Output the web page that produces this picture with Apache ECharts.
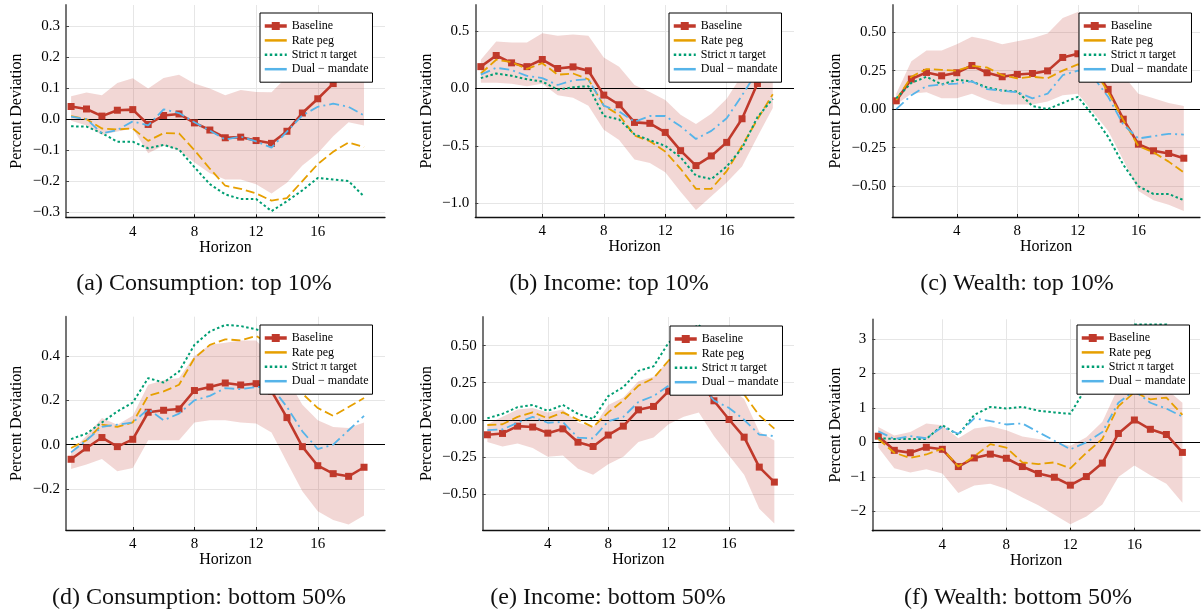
<!DOCTYPE html>
<html>
<head>
<meta charset="utf-8">
<script src="https://cdn.jsdelivr.net/npm/echarts@6/dist/echarts.min.js"></script>
<style>
  html, body { margin: 0; padding: 0; background: #ffffff; }
  #chart { width: 1203px; height: 613px; }
</style>
</head>
<body>
<div id="chart"></div>
<script>
// Impulse responses over a 20-quarter horizon, four policy regimes,
// with the 90% band around the baseline response.
const horizon = [0, 1, 2, 3, 4, 5, 6, 7, 8, 9, 10, 11, 12, 13, 14, 15, 16, 17, 18, 19];
const xTicks = [4, 8, 12, 16];
const seriesNames = ['Baseline', 'Rate peg', 'Strict π target', 'Dual − mandate'];
const panelTitles = [
  '(a) Consumption: top 10%', '(b) Income: top 10%', '(c) Wealth: top 10%',
  '(d) Consumption: bottom 50%', '(e) Income: bottom 50%', '(f) Wealth: bottom 50%'
];

// (a) Consumption: top 10%
const consTopBaseline = [0.041, 0.033, 0.010, 0.029, 0.031, -0.017, 0.012, 0.017, -0.012, -0.035, -0.060, -0.058, -0.069, -0.078, -0.039, 0.020, 0.066, 0.115, 0.165, 0.147];
const consTopRatePeg = [0.010, 0.000, -0.030, -0.033, -0.030, -0.070, -0.045, -0.046, -0.100, -0.160, -0.215, -0.225, -0.240, -0.263, -0.255, -0.200, -0.145, -0.105, -0.075, -0.090];
const consTopStrict = [-0.023, -0.024, -0.045, -0.073, -0.073, -0.094, -0.083, -0.098, -0.155, -0.210, -0.243, -0.258, -0.258, -0.297, -0.265, -0.230, -0.190, -0.195, -0.200, -0.250];
const consTopDual = [0.008, 0.000, -0.046, -0.035, -0.007, -0.020, 0.032, 0.020, -0.010, -0.037, -0.066, -0.056, -0.072, -0.092, -0.040, 0.012, 0.040, 0.050, 0.040, 0.012];
const consTopLow = [-0.005, -0.020, -0.050, -0.040, -0.030, -0.110, -0.085, -0.100, -0.140, -0.175, -0.195, -0.195, -0.210, -0.240, -0.205, -0.150, -0.110, -0.055, -0.010, -0.020];
const consTopHigh = [0.074, 0.086, 0.077, 0.117, 0.132, 0.099, 0.133, 0.144, 0.115, 0.099, 0.077, 0.094, 0.088, 0.087, 0.137, 0.200, 0.260, 0.300, 0.330, 0.320];

// (b) Income: top 10%
const incTopBaseline = [0.190, 0.287, 0.223, 0.190, 0.252, 0.174, 0.188, 0.154, -0.058, -0.142, -0.296, -0.304, -0.383, -0.542, -0.672, -0.588, -0.470, -0.264, 0.043, 0.200];
const incTopRatePeg = [0.130, 0.250, 0.230, 0.170, 0.220, 0.120, 0.130, 0.080, -0.150, -0.230, -0.410, -0.460, -0.550, -0.700, -0.875, -0.875, -0.720, -0.500, -0.270, -0.050];
const incTopStrict = [0.090, 0.130, 0.110, 0.080, 0.060, -0.010, 0.010, 0.020, -0.240, -0.270, -0.400, -0.450, -0.500, -0.600, -0.760, -0.790, -0.680, -0.520, -0.250, -0.090];
const incTopDual = [0.120, 0.180, 0.160, 0.110, 0.090, 0.030, 0.070, 0.080, -0.150, -0.200, -0.290, -0.240, -0.240, -0.330, -0.440, -0.370, -0.260, -0.060, 0.150, 0.350];
const incTopLow = [0.050, 0.050, 0.040, 0.020, 0.040, -0.060, -0.080, -0.150, -0.360, -0.450, -0.620, -0.650, -0.730, -0.900, -1.060, -0.940, -0.820, -0.680, -0.420, -0.170];
const incTopHigh = [0.250, 0.410, 0.400, 0.400, 0.480, 0.460, 0.470, 0.460, 0.270, 0.190, 0.030, -0.030, -0.100, -0.230, -0.310, -0.220, -0.090, 0.120, 0.350, 0.450];

// (c) Wealth: top 10%
const wltTopBaseline = [0.054, 0.195, 0.238, 0.216, 0.236, 0.283, 0.236, 0.210, 0.225, 0.231, 0.248, 0.335, 0.359, 0.270, 0.128, -0.065, -0.227, -0.270, -0.287, -0.318];
const wltTopRatePeg = [0.060, 0.210, 0.260, 0.255, 0.250, 0.280, 0.270, 0.220, 0.200, 0.210, 0.200, 0.250, 0.290, 0.270, 0.110, -0.070, -0.240, -0.280, -0.340, -0.410];
const wltTopStrict = [0.070, 0.170, 0.210, 0.160, 0.190, 0.180, 0.140, 0.120, 0.115, 0.020, 0.000, 0.040, 0.080, -0.040, -0.180, -0.360, -0.500, -0.550, -0.550, -0.590];
const wltTopDual = [0.000, 0.090, 0.150, 0.160, 0.165, 0.180, 0.130, 0.120, 0.110, 0.070, 0.100, 0.220, 0.250, 0.210, 0.080, -0.100, -0.190, -0.175, -0.160, -0.165];
const wltTopLow = [0.030, 0.100, 0.110, 0.070, 0.070, 0.100, 0.060, 0.030, 0.030, 0.030, 0.050, 0.090, 0.100, -0.020, -0.140, -0.330, -0.530, -0.590, -0.620, -0.660];
const wltTopHigh = [0.100, 0.310, 0.380, 0.380, 0.420, 0.470, 0.450, 0.420, 0.440, 0.460, 0.490, 0.590, 0.630, 0.580, 0.400, 0.220, 0.100, 0.070, 0.040, 0.020];

// (d) Consumption: bottom 50%
const consBotBaseline = [-0.066, -0.015, 0.032, -0.009, 0.024, 0.146, 0.155, 0.161, 0.244, 0.260, 0.278, 0.269, 0.275, 0.241, 0.122, -0.009, -0.095, -0.131, -0.143, -0.102];
const consBotRatePeg = [-0.015, 0.020, 0.090, 0.080, 0.100, 0.220, 0.240, 0.270, 0.390, 0.450, 0.475, 0.470, 0.490, 0.450, 0.330, 0.230, 0.165, 0.130, 0.170, 0.210];
const consBotStrict = [0.025, 0.050, 0.100, 0.150, 0.190, 0.300, 0.280, 0.330, 0.450, 0.510, 0.540, 0.535, 0.520, 0.500, 0.450, 0.380, 0.330, 0.300, 0.320, 0.350];
const consBotDual = [-0.035, 0.020, 0.080, 0.090, 0.100, 0.160, 0.110, 0.140, 0.200, 0.220, 0.255, 0.250, 0.260, 0.260, 0.170, 0.060, -0.020, 0.000, 0.065, 0.130];
const consBotLow = [-0.110, -0.090, -0.065, -0.120, -0.105, 0.020, 0.020, 0.020, 0.100, 0.110, 0.110, 0.100, 0.095, 0.055, -0.080, -0.210, -0.300, -0.340, -0.360, -0.320];
const consBotHigh = [-0.030, 0.040, 0.120, 0.090, 0.130, 0.270, 0.290, 0.300, 0.400, 0.450, 0.460, 0.470, 0.470, 0.400, 0.300, 0.180, 0.110, 0.080, 0.075, 0.100];

// (e) Income: bottom 50%
const incBotBaseline = [-0.101, -0.092, -0.043, -0.049, -0.090, -0.061, -0.151, -0.180, -0.103, -0.043, 0.067, 0.090, 0.193, 0.300, 0.270, 0.128, 0.002, -0.117, -0.319, -0.420];
const incBotRatePeg = [-0.035, -0.030, 0.020, 0.050, 0.010, 0.050, 0.000, -0.050, 0.050, 0.130, 0.230, 0.280, 0.400, 0.480, 0.450, 0.380, 0.300, 0.170, 0.030, -0.060];
const incBotStrict = [0.010, 0.040, 0.085, 0.100, 0.060, 0.100, 0.040, 0.005, 0.160, 0.220, 0.330, 0.360, 0.520, 0.580, 0.640, 0.500, 0.400, 0.300, 0.230, 0.200];
const incBotDual = [-0.070, -0.065, -0.020, 0.020, -0.020, -0.015, -0.120, -0.125, -0.010, 0.020, 0.120, 0.160, 0.230, 0.270, 0.250, 0.130, 0.080, 0.000, -0.100, -0.110];
const incBotLow = [-0.150, -0.180, -0.160, -0.190, -0.250, -0.240, -0.330, -0.370, -0.300, -0.250, -0.150, -0.120, -0.030, 0.020, 0.050, -0.110, -0.240, -0.370, -0.600, -0.700];
const incBotHigh = [-0.030, 0.020, 0.070, 0.080, 0.050, 0.070, -0.020, -0.050, 0.100, 0.150, 0.260, 0.290, 0.400, 0.500, 0.500, 0.350, 0.220, 0.140, -0.080, -0.140];

// (f) Wealth: bottom 50%
const wltBotBaseline = [0.18, -0.23, -0.30, -0.14, -0.20, -0.70, -0.45, -0.34, -0.46, -0.70, -0.90, -1.01, -1.24, -0.99, -0.60, 0.26, 0.65, 0.38, 0.23, -0.29];
const wltBotRatePeg = [0.10, -0.30, -0.45, -0.35, -0.18, -0.70, -0.40, -0.05, -0.15, -0.58, -0.63, -0.58, -0.75, -0.30, 0.10, 1.05, 1.45, 1.25, 1.30, 0.80];
const wltBotStrict = [0.12, 0.10, 0.10, 0.10, 0.50, 0.22, 0.80, 1.03, 0.98, 1.03, 0.92, 0.87, 0.83, 1.60, 2.60, 3.20, 3.42, 3.42, 3.42, 3.20];
const wltBotDual = [0.32, 0.10, 0.18, 0.12, 0.45, 0.25, 0.70, 0.62, 0.52, 0.55, 0.30, 0.05, -0.20, 0.00, 0.30, 1.15, 1.50, 1.15, 0.98, 0.75];
const wltBotLow = [-0.15, -0.75, -0.87, -0.78, -0.90, -1.47, -1.25, -1.20, -1.35, -1.60, -1.82, -2.10, -2.37, -2.15, -1.80, -1.00, -0.67, -0.95, -1.20, -1.75];
const wltBotHigh = [0.45, 0.20, 0.30, 0.55, 0.50, 0.12, 0.40, 0.47, 0.35, 0.17, 0.10, 0.02, -0.10, 0.15, 0.60, 1.60, 2.00, 1.75, 1.55, 1.15];

// y-axis tick values per panel
const yTicksA = [-0.3, -0.2, -0.1, 0.0, 0.1, 0.2, 0.3];
const yTicksB = [-1.0, -0.5, 0.0, 0.5];
const yTicksC = [-0.5, -0.25, 0.0, 0.25, 0.5];
const yTicksD = [-0.2, 0.0, 0.2, 0.4];
const yTicksE = [-0.5, -0.25, 0.0, 0.25, 0.5];
const yTicksF = [-2, -1, 0, 1, 2, 3];

const SERIF = '"Liberation Serif", "DejaVu Serif", serif';
const RED = '#c0392b';
const ORANGE = '#e69f00';
const GREEN = '#009e73';
const BLUE = '#56b4e9';
const BAND = 'rgba(192, 57, 43, 0.2)';
const NO_SYMBOL = { color: 'rgba(0,0,0,0)', borderColor: 'rgba(0,0,0,0)', borderWidth: 0, opacity: 0 };

const panels = [
  { lines: [consTopBaseline, consTopRatePeg, consTopStrict, consTopDual], low: consTopLow, high: consTopHigh,
    yTicks: yTicksA, dec: 1, grid: [66, 5, 319, 212.3], x: [-0.33, 20.36], y: [-0.317, 0.369],
    yGap: 41, legend: [260, 13], caption: [204, 284] },
  { lines: [incTopBaseline, incTopRatePeg, incTopStrict, incTopDual], low: incTopLow, high: incTopHigh,
    yTicks: yTicksB, dec: 1, grid: [475.3, 5, 318.7, 212], x: [-0.36, 20.38], y: [-1.12, 0.727],
    yGap: 41, legend: [669, 13], caption: [609, 284] },
  { lines: [wltTopBaseline, wltTopRatePeg, wltTopStrict, wltTopDual], low: wltTopLow, high: wltTopHigh,
    yTicks: yTicksC, dec: 2, grid: [892.3, 5, 307.7, 212], x: [-0.26, 20.07], y: [-0.699, 0.675],
    yGap: 49, legend: [1079, 13], caption: [1017, 284] },
  { lines: [consBotBaseline, consBotRatePeg, consBotStrict, consBotDual], low: consBotLow, high: consBotHigh,
    yTicks: yTicksD, dec: 1, grid: [66, 316.7, 319, 213.3], x: [-0.33, 20.36], y: [-0.385, 0.577],
    yGap: 41, legend: [260, 325], caption: [199, 598] },
  { lines: [incBotBaseline, incBotRatePeg, incBotStrict, incBotDual], low: incBotLow, high: incBotHigh,
    yTicks: yTicksE, dec: 2, grid: [482.7, 317, 311.3, 213], x: [-0.31, 20.3], y: [-0.743, 0.693],
    yGap: 48, legend: [670, 326], caption: [608, 598] },
  { lines: [wltBotBaseline, wltBotRatePeg, wltBotStrict, wltBotDual], low: wltBotLow, high: wltBotHigh,
    yTicks: yTicksF, dec: 0, grid: [872.3, 319.3, 327.7, 211.4], x: [-0.375, 20.1], y: [-2.56, 3.57],
    yGap: 29, legend: [1077, 325], caption: [1018, 598] }
];

function tickText(v, dec) {
  const s = Math.abs(v) < 1e-9 ? (0).toFixed(dec) : v.toFixed(dec);
  return s.replace('-', '\u2212');
}

const grids = [], xAxes = [], yAxes = [], legends = [], series = [], graphics = [];

panels.forEach((p, i) => {
  grids.push({
    left: p.grid[0], top: p.grid[1], width: p.grid[2], height: p.grid[3],
    containLabel: false, outerBoundsMode: 'none'
  });

  xAxes.push({
    gridIndex: i, type: 'value', min: p.x[0], max: p.x[1],
    name: 'Horizon', nameLocation: 'middle', nameGap: 22, nameMoveOverlap: false,
    nameTextStyle: { fontFamily: SERIF, fontSize: 16, color: '#000' },
    axisLine: { show: true, onZero: false, lineStyle: { color: '#111', width: 1.3 } },
    axisTick: { show: true, inside: true, length: 3, customValues: xTicks, lineStyle: { color: '#111', width: 1 } },
    axisLabel: { customValues: xTicks, formatter: v => String(v), margin: 7,
      fontFamily: SERIF, fontSize: 15, color: '#000' },
    splitLine: { show: true, lineStyle: { color: '#e6e6e6', width: 1 } }
  });

  yAxes.push({
    gridIndex: i, type: 'value', min: p.y[0], max: p.y[1],
    name: 'Percent Deviation', nameLocation: 'middle', nameGap: p.yGap, nameRotate: 90, nameMoveOverlap: false,
    nameTextStyle: { fontFamily: SERIF, fontSize: 16, color: '#000' },
    axisLine: { show: true, onZero: false, lineStyle: { color: '#666', width: 1.8 } },
    axisTick: { show: true, inside: true, length: 3, customValues: p.yTicks, lineStyle: { color: '#444', width: 1 } },
    axisLabel: { customValues: p.yTicks, formatter: v => tickText(v, p.dec), margin: 6,
      fontFamily: SERIF, fontSize: 15, color: '#000' },
    splitLine: { show: true, lineStyle: { color: '#e6e6e6', width: 1 } }
  });

  legends.push({
    orient: 'vertical', left: p.legend[0], top: p.legend[1],
    data: [
      { name: seriesNames[0], lineStyle: { width: 3.5 } },
      { name: seriesNames[1], lineStyle: { type: 'solid', width: 2.5 }, itemStyle: NO_SYMBOL },
      { name: seriesNames[2], lineStyle: { width: 2.5 }, itemStyle: NO_SYMBOL },
      { name: seriesNames[3], lineStyle: { type: 'solid', width: 2.5 }, itemStyle: NO_SYMBOL }
    ],
    selectedMode: false,
    backgroundColor: '#ffffff', borderColor: '#000', borderWidth: 1, borderRadius: 0,
    padding: [7, 4, 7, 3], itemWidth: 22, itemHeight: 10, itemGap: 2.4,
    textStyle: { fontFamily: SERIF, fontSize: 12, color: '#000', lineHeight: 10 },
    z: 10
  });

  // shaded band around the baseline response
  const lo = p.low, hi = p.high;
  series.push({
    type: 'custom', name: 'band', xAxisIndex: i, yAxisIndex: i, z: 1, silent: true, clip: true,
    data: horizon.map((h, k) => [h, lo[k], hi[k]]),
    encode: { x: 0, y: [1, 2] },
    renderItem: (params, api) => {
      if (params.dataIndex !== 0) return null;
      const pts = [];
      for (let k = 0; k < horizon.length; k++) pts.push(api.coord([horizon[k], hi[k]]));
      for (let k = horizon.length - 1; k >= 0; k--) pts.push(api.coord([horizon[k], lo[k]]));
      return { type: 'polygon', shape: { points: pts }, style: { fill: BAND } };
    }
  });

  series.push({
    type: 'line', name: seriesNames[0], xAxisIndex: i, yAxisIndex: i, z: 3,
    data: horizon.map((h, k) => [h, p.lines[0][k]]),
    symbol: 'rect', symbolSize: 7, showSymbol: true,
    lineStyle: { color: RED, width: 2.6 }, itemStyle: { color: RED },
    markLine: {
      silent: true, symbol: ['none', 'none'], label: { show: false },
      lineStyle: { color: '#000', width: 1, type: 'solid' },
      data: [{ yAxis: 0 }], z: 2
    }
  });
  series.push({
    type: 'line', name: seriesNames[1], xAxisIndex: i, yAxisIndex: i, z: 4,
    data: horizon.map((h, k) => [h, p.lines[1][k]]), symbol: 'none',
    lineStyle: { color: ORANGE, width: 1.8, type: [9, 4] }, itemStyle: { color: ORANGE }
  });
  series.push({
    type: 'line', name: seriesNames[2], xAxisIndex: i, yAxisIndex: i, z: 4,
    data: horizon.map((h, k) => [h, p.lines[2][k]]), symbol: 'none',
    lineStyle: { color: GREEN, width: 2, type: [2.5, 2.5] }, itemStyle: { color: GREEN }
  });
  series.push({
    type: 'line', name: seriesNames[3], xAxisIndex: i, yAxisIndex: i, z: 4,
    data: horizon.map((h, k) => [h, p.lines[3][k]]), symbol: 'none',
    lineStyle: { color: BLUE, width: 1.8, type: [10, 4, 2, 4] }, itemStyle: { color: BLUE }
  });

  graphics.push({
    type: 'text', x: p.caption[0], y: p.caption[1],
    style: { text: panelTitles[i], fontFamily: SERIF, fontSize: 24, fill: '#111',
      align: 'center', verticalAlign: 'middle' }
  });
});

const chart = echarts.init(document.getElementById('chart'), null, { renderer: 'canvas' });
chart.setOption({
  animation: false,
  backgroundColor: '#ffffff',
  grid: grids, xAxis: xAxes, yAxis: yAxes, legend: legends,
  series: series, graphic: graphics
});
</script>
</body>
</html>
